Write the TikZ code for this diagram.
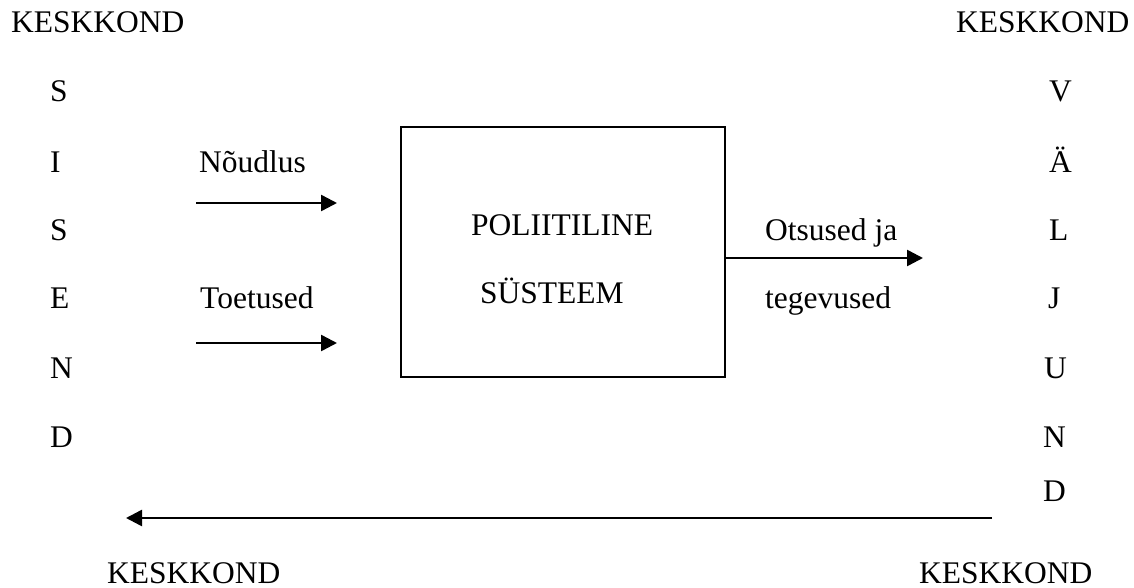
\documentclass[tikz,border=0pt]{standalone}
\usepackage{fontspec}
\setmainfont{Liberation Serif}
\usetikzlibrary{arrows.meta}
\tikzset{
  txt/.style={inner sep=0pt, anchor=base west, font=\fontsize{31.5}{38}\selectfont},
  arr/.style={line width=2.5pt, -{Triangle[length=16pt,width=16pt]}},
  sysbox/.style={draw, line width=1.8pt, minimum width=324pt, minimum height=250pt, inner sep=0pt}
}
\begin{document}
\begin{tikzpicture}[x=1pt,y=-1pt]
\useasboundingbox (0,0) rectangle (1134,588);
% corner labels
\node[txt] (k1) at (11,33) {KESKKOND};
\node[txt] (k2) at (956,33) {KESKKOND};
\node[txt] (k3) at (107,583) {KESKKOND};
\node[txt] (k4) at (919,583) {KESKKOND};
% left column
\node[txt] (s1) at (50,102) {S};
\node[txt] (s2) at (50,172) {I};
\node[txt] (s3) at (50,240) {S};
\node[txt] (s4) at (50,308) {E};
\node[txt] (s5) at (50,378) {N};
\node[txt] (s6) at (50,447) {D};
% right column
\node[txt] (v1) at (1049,102) {V};
\node[txt] (v2) at (1049,172) {Ä};
\node[txt] (v3) at (1049,240) {L};
\node[txt] (v4) at (1048,308) {J};
\node[txt] (v5) at (1044,378) {U};
\node[txt] (v6) at (1043,447) {N};
\node[txt] (v7) at (1043,501) {D};
% inputs
\node[txt] (nou) at (199,172) {Nõudlus};
\node[txt] (toe) at (200,308) {Toetused};
\coordinate (a1s) at (196,203);
\coordinate (a1e) at (337,203);
\coordinate (a2s) at (196,343);
\coordinate (a2e) at (337,343);
\draw[arr] (a1s) -- (a1e);
\draw[arr] (a2s) -- (a2e);
% system box
\node[sysbox] (box) at (563,252) {};
\node[txt] (p1) at (471,235) {POLIITILINE};
\node[txt] (p2) at (480,303) {SÜSTEEM};
% output
\node[txt] (o1) at (765,240) {Otsused ja};
\node[txt] (o2) at (765,308) {tegevused};
\coordinate (oe) at (923,258);
\draw[arr] (box.east |- oe) -- (oe);
% feedback
\coordinate (fs) at (992,518);
\coordinate (fe) at (126,518);
\draw[arr] (fs) -- (fe);
\end{tikzpicture}
\end{document}
